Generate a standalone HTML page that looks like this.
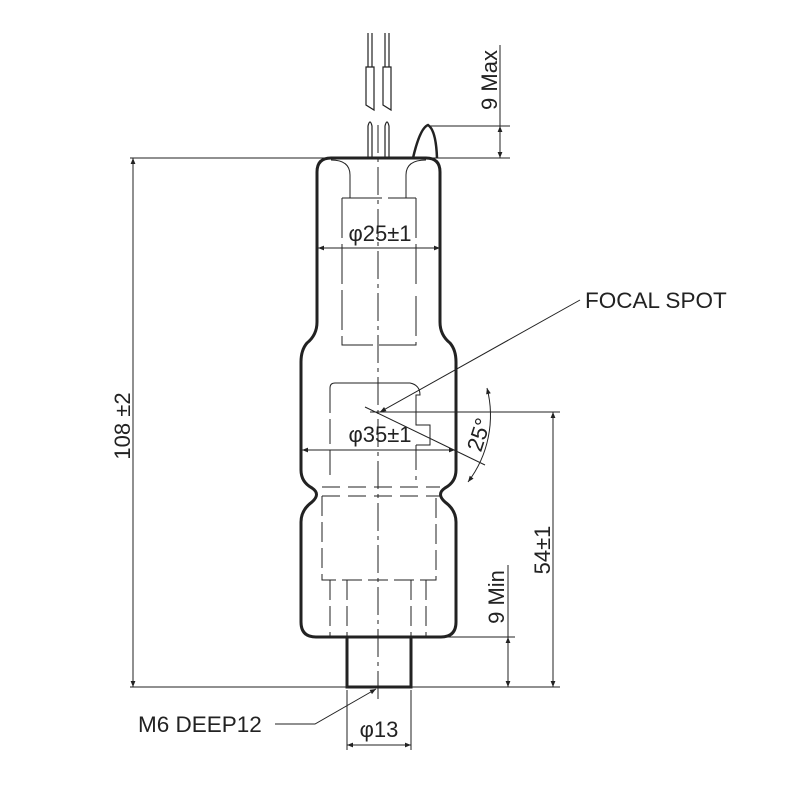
<!DOCTYPE html>
<html><head><style>body{margin:0;background:#fff}svg{display:block}text{font-family:"Liberation Sans",sans-serif;fill:#222}</style></head>
<body>
<svg width="800" height="805" viewBox="0 0 800 805" xmlns="http://www.w3.org/2000/svg">
<defs>
<marker id="a" viewBox="0 0 10 10" refX="10" refY="5" markerWidth="9" markerHeight="6" orient="auto-start-reverse" markerUnits="userSpaceOnUse"><path d="M0,1 L10,5 L0,9 z" fill="#222"/></marker>
</defs>
<g fill="none" stroke="#222">
<path stroke-width="3" d="M317,172 Q317,158 331,158 L426,158 Q440,158 440,172 L440,322 Q440,335 450,343 Q456,350 456,362 L456,470 Q456,482 445,488 Q436,494 445,502 Q456,510 456,522 L456,622 Q456,637 441,637 L316,637 Q301,637 301,622 L301,522 Q301,510 312,502 Q321,494 312,488 Q301,482 301,470 L301,362 Q301,350 307,343 Q317,335 317,322 Z"/>
<rect x="347" y="637" width="64" height="50" stroke-width="3"/>
<g stroke-width="1.2">
<path d="M368,33 L368,67 M372,33 L372,67 M385,33 L385,67 M389,33 L389,67"/>
<path d="M366,67 L374,67 L374,110 L366,105 Z M383,67 L391,67 L391,110 L383,105 Z"/>
<path d="M368,158 L368,126 Q370,118 372,126 L372,158 M385,158 L385,126 Q387,118 389,126 L389,158"/>
</g>
<path stroke-width="2.5" d="M413,158 Q420,128 428,125 Q436,130 437,158"/>
<g stroke-width="1">
<path d="M331,160 Q350,160 350,175 L350,198 M426,160 Q406,160 406,175 L406,198"/>
<path d="M342,198 L416,198 M342,198 L342,345 L416,345 L416,290 M416,198 L416,285" stroke-dasharray="40,6"/>
<path d="M330,388 Q330,383 335,383 L410,383 Q420,385 420,395 L416,395 L416,425 L430,425 L430,445 L416,445" />
<path d="M330,388 L330,480 M416,445 L416,480" stroke-dasharray="25,6"/>
<path d="M322,487 L440,487 M322,496 L440,496" stroke-dasharray="18,8"/>
<path d="M322,496 L322,580 L436,580 L436,496 M330,580 L330,637 M426,580 L426,637 M347,580 L347,637 M411,580 L411,637" stroke-dasharray="20,6"/>
<path d="M378,125 L378,700" stroke-dasharray="28,5,4,5"/>
</g>
<g stroke-width="1">
<path d="M130,158 L510,158 M430,126 L510,126 M500,45 L500,158"/>
<path d="M500,140 L500,126" marker-end="url(#a)"/><path d="M500,145 L500,158" marker-end="url(#a)"/>
<path d="M133,158 L133,687" marker-start="url(#a)" marker-end="url(#a)"/>
<path d="M130,687 L560,687 M370,412 L560,412 M440,637 L515,637"/>
<path d="M553,412 L553,687" marker-start="url(#a)" marker-end="url(#a)"/>
<path d="M508,565 L508,637"/>
<path d="M508,637 L508,687" marker-start="url(#a)" marker-end="url(#a)"/>
<path d="M318,248 L440,248" marker-start="url(#a)" marker-end="url(#a)"/>
<path d="M302,450 L455,450" marker-start="url(#a)" marker-end="url(#a)"/>
<path d="M347,690 L347,750 M411,690 L411,750"/>
<path d="M347,745 L411,745" marker-start="url(#a)" marker-end="url(#a)"/>
<path d="M365,407 L485,465"/>
<path d="M487,388 A110,110 0 0 1 468,482" marker-start="url(#a)" marker-end="url(#a)"/>
<path d="M580,300 L380,412" marker-end="url(#a)"/>
<path d="M275,724 L315,724 L376,689" marker-end="url(#a)"/>
</g>
</g>
<text x="380" y="241" font-size="22" text-anchor="middle">φ25±1</text>
<text x="380" y="442" font-size="22" text-anchor="middle">φ35±1</text>
<text x="379" y="737" font-size="22" text-anchor="middle">φ13</text>
<text x="585" y="308" font-size="22.5">FOCAL SPOT</text>
<text x="138" y="732" font-size="22.5">M6 DEEP12</text>
<text font-size="22" text-anchor="middle" transform="translate(130,426) rotate(-90)">108 ±2</text>
<text font-size="22" text-anchor="middle" transform="translate(497,80) rotate(-90)">9 Max</text>
<text font-size="22" text-anchor="middle" transform="translate(504,597) rotate(-90)">9 Min</text>
<text font-size="22" text-anchor="middle" transform="translate(550,550) rotate(-90)">54±1</text>
<text font-size="22" text-anchor="middle" transform="translate(486,437) rotate(-72)">25°</text>
</svg>
</body></html>
